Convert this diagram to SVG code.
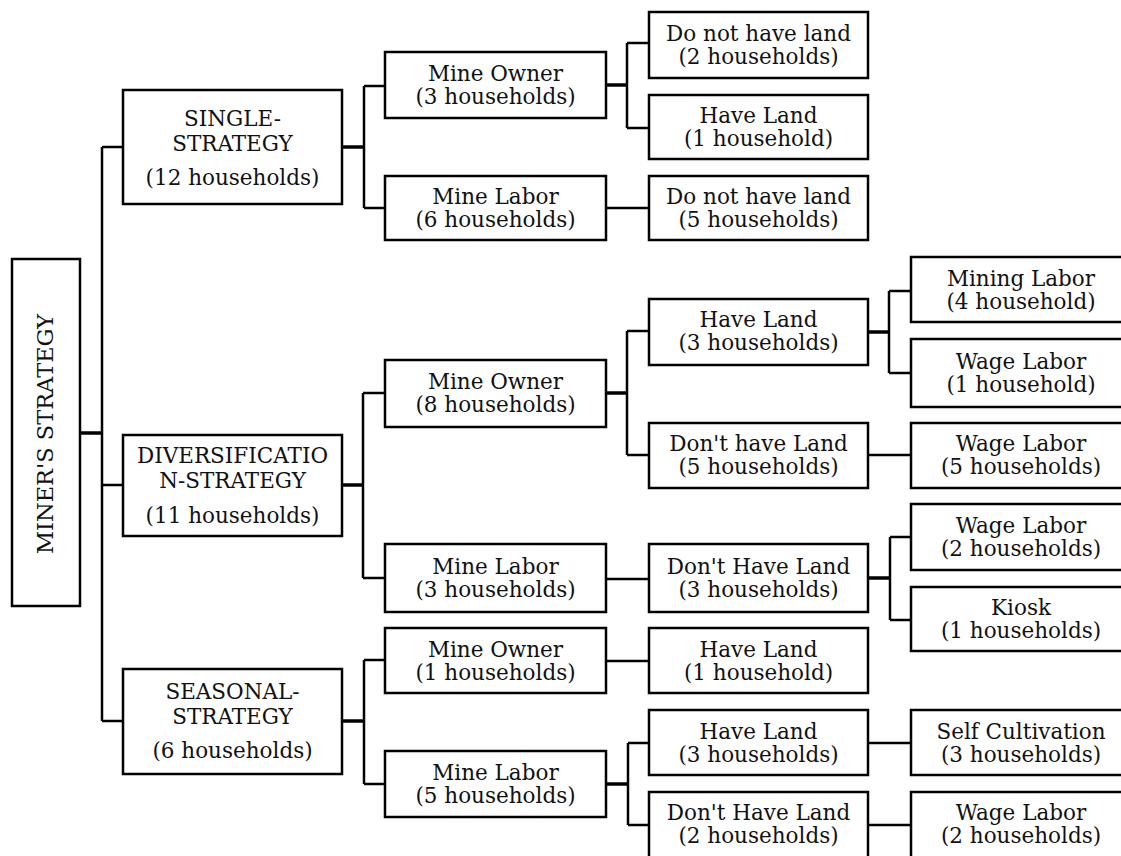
<svg xmlns="http://www.w3.org/2000/svg" width="1121" height="856" viewBox="0 0 1121 856">
<style>
.box{fill:#fff;stroke:#000;stroke-width:2.5}
.t{font-family:"DejaVu Serif","Liberation Serif",serif;font-size:21.5px;fill:#111;text-anchor:middle}
.c{fill:none;stroke:#000;stroke-width:2.5}
.ct{fill:none;stroke:#000;stroke-width:3.5}
</style>
<rect x="0" y="0" width="1121" height="856" fill="#fff"/>
<g id="connectors">
<path class="ct" d="M80,433 H102"/>
<path class="c" d="M102,147 V721 M102,147 H123 M102,485 H123 M102,721 H123"/>
<path class="ct" d="M342,147 H364"/>
<path class="c" d="M364,86 V208 M364,86 H385 M364,208 H385"/>
<path class="ct" d="M606,85 H627"/>
<path class="c" d="M627,43 V128 M627,43 H649 M627,128 H649"/>
<path class="c" d="M606,208 H649"/>
<path class="ct" d="M342,485 H363"/>
<path class="c" d="M363,393 V578 M363,393 H385 M363,578 H385"/>
<path class="ct" d="M606,393 H627"/>
<path class="c" d="M627,331 V455 M627,331 H649 M627,455 H649"/>
<path class="ct" d="M868,332 H889"/>
<path class="c" d="M889,291 V373 M889,291 H911 M889,373 H911"/>
<path class="c" d="M868,455 H911"/>
<path class="c" d="M606,579 H649"/>
<path class="ct" d="M868,578 H890"/>
<path class="c" d="M890,537 V620 M890,537 H911 M890,620 H911"/>
<path class="ct" d="M342,721 H364"/>
<path class="c" d="M364,660 V784 M364,660 H385 M364,784 H385"/>
<path class="c" d="M606,661 H649"/>
<path class="ct" d="M606,784 H628"/>
<path class="c" d="M628,743 V825 M628,743 H649 M628,825 H649"/>
<path class="c" d="M868,743 H911"/>
<path class="c" d="M868,825 H911"/>
</g>
<g id="root">
<rect class="box" x="12" y="259" width="68" height="347"/>
<text class="t" font-size="22.5" transform="translate(53,434) rotate(-90)" x="0" y="0" style="font-size:22.5px">MINER'S STRATEGY</text>
</g>
<g id="single">
<rect class="box" x="123" y="90" width="219" height="114"/>
<text class="t" x="232.5" y="126">SINGLE-</text>
<text class="t" x="232.5" y="151">STRATEGY</text>
<text class="t" x="232.5" y="185">(12 households)</text>
</g>
<g id="diversification">
<rect class="box" x="123" y="435" width="219" height="101"/>
<text class="t" x="232.5" y="463">DIVERSIFICATIO</text>
<text class="t" x="232.5" y="488">N-STRATEGY</text>
<text class="t" x="232.5" y="523">(11 households)</text>
</g>
<g id="seasonal">
<rect class="box" x="123" y="669" width="219" height="105"/>
<text class="t" x="232.5" y="699">SEASONAL-</text>
<text class="t" x="232.5" y="724">STRATEGY</text>
<text class="t" x="232.5" y="758">(6 households)</text>
</g>
<g id="s-mine-owner">
<rect class="box" x="385" y="52" width="221" height="66"/>
<text class="t" x="495.5" y="81">Mine Owner</text>
<text class="t" x="495.5" y="104">(3 households)</text>
</g>
<g id="s-mine-labor">
<rect class="box" x="385" y="176" width="221" height="64"/>
<text class="t" x="495.5" y="204">Mine Labor</text>
<text class="t" x="495.5" y="227">(6 households)</text>
</g>
<g id="d-mine-owner">
<rect class="box" x="385" y="360" width="221" height="67"/>
<text class="t" x="495.5" y="389">Mine Owner</text>
<text class="t" x="495.5" y="412">(8 households)</text>
</g>
<g id="d-mine-labor">
<rect class="box" x="385" y="544" width="221" height="68"/>
<text class="t" x="495.5" y="574">Mine Labor</text>
<text class="t" x="495.5" y="597">(3 households)</text>
</g>
<g id="se-mine-owner">
<rect class="box" x="385" y="628" width="221" height="65"/>
<text class="t" x="495.5" y="657">Mine Owner</text>
<text class="t" x="495.5" y="680">(1 households)</text>
</g>
<g id="se-mine-labor">
<rect class="box" x="385" y="751" width="221" height="66"/>
<text class="t" x="495.5" y="780">Mine Labor</text>
<text class="t" x="495.5" y="803">(5 households)</text>
</g>
<g id="s-mo-no-land">
<rect class="box" x="649" y="12" width="219" height="66"/>
<text class="t" x="758.5" y="41">Do not have land</text>
<text class="t" x="758.5" y="64">(2 households)</text>
</g>
<g id="s-mo-land">
<rect class="box" x="649" y="95" width="219" height="64"/>
<text class="t" x="758.5" y="123">Have Land</text>
<text class="t" x="758.5" y="146">(1 household)</text>
</g>
<g id="s-ml-no-land">
<rect class="box" x="649" y="176" width="219" height="64"/>
<text class="t" x="758.5" y="204">Do not have land</text>
<text class="t" x="758.5" y="227">(5 households)</text>
</g>
<g id="d-mo-land">
<rect class="box" x="649" y="299" width="219" height="66"/>
<text class="t" x="758.5" y="327">Have Land</text>
<text class="t" x="758.5" y="350">(3 households)</text>
</g>
<g id="d-mo-no-land">
<rect class="box" x="649" y="423" width="219" height="65"/>
<text class="t" x="758.5" y="451">Don't have Land</text>
<text class="t" x="758.5" y="474">(5 households)</text>
</g>
<g id="d-ml-no-land">
<rect class="box" x="649" y="544" width="219" height="68"/>
<text class="t" x="758.5" y="574">Don't Have Land</text>
<text class="t" x="758.5" y="597">(3 households)</text>
</g>
<g id="se-mo-land">
<rect class="box" x="649" y="628" width="219" height="65"/>
<text class="t" x="758.5" y="657">Have Land</text>
<text class="t" x="758.5" y="680">(1 household)</text>
</g>
<g id="se-ml-land">
<rect class="box" x="649" y="710" width="219" height="65"/>
<text class="t" x="758.5" y="739">Have Land</text>
<text class="t" x="758.5" y="762">(3 households)</text>
</g>
<g id="se-ml-no-land">
<rect class="box" x="649" y="792" width="219" height="68"/>
<text class="t" x="758.5" y="820">Don't Have Land</text>
<text class="t" x="758.5" y="843">(2 households)</text>
</g>
<g id="d-mining-labor">
<rect class="box" x="911" y="257" width="222" height="65"/>
<text class="t" x="1021" y="286">Mining Labor</text>
<text class="t" x="1021" y="309">(4 household)</text>
</g>
<g id="d-wage-labor-1">
<rect class="box" x="911" y="339" width="222" height="68"/>
<text class="t" x="1021" y="369">Wage Labor</text>
<text class="t" x="1021" y="392">(1 household)</text>
</g>
<g id="d-wage-labor-5">
<rect class="box" x="911" y="423" width="222" height="65"/>
<text class="t" x="1021" y="451">Wage Labor</text>
<text class="t" x="1021" y="474">(5 households)</text>
</g>
<g id="d-wage-labor-2">
<rect class="box" x="911" y="504" width="222" height="66"/>
<text class="t" x="1021" y="533">Wage Labor</text>
<text class="t" x="1021" y="556">(2 households)</text>
</g>
<g id="d-kiosk">
<rect class="box" x="911" y="587" width="222" height="64"/>
<text class="t" x="1021" y="615">Kiosk</text>
<text class="t" x="1021" y="638">(1 households)</text>
</g>
<g id="se-self-cultivation">
<rect class="box" x="911" y="710" width="222" height="65"/>
<text class="t" x="1021" y="739">Self Cultivation</text>
<text class="t" x="1021" y="762">(3 households)</text>
</g>
<g id="se-wage-labor-2">
<rect class="box" x="911" y="792" width="222" height="68"/>
<text class="t" x="1021" y="820">Wage Labor</text>
<text class="t" x="1021" y="843">(2 households)</text>
</g>
</svg>
